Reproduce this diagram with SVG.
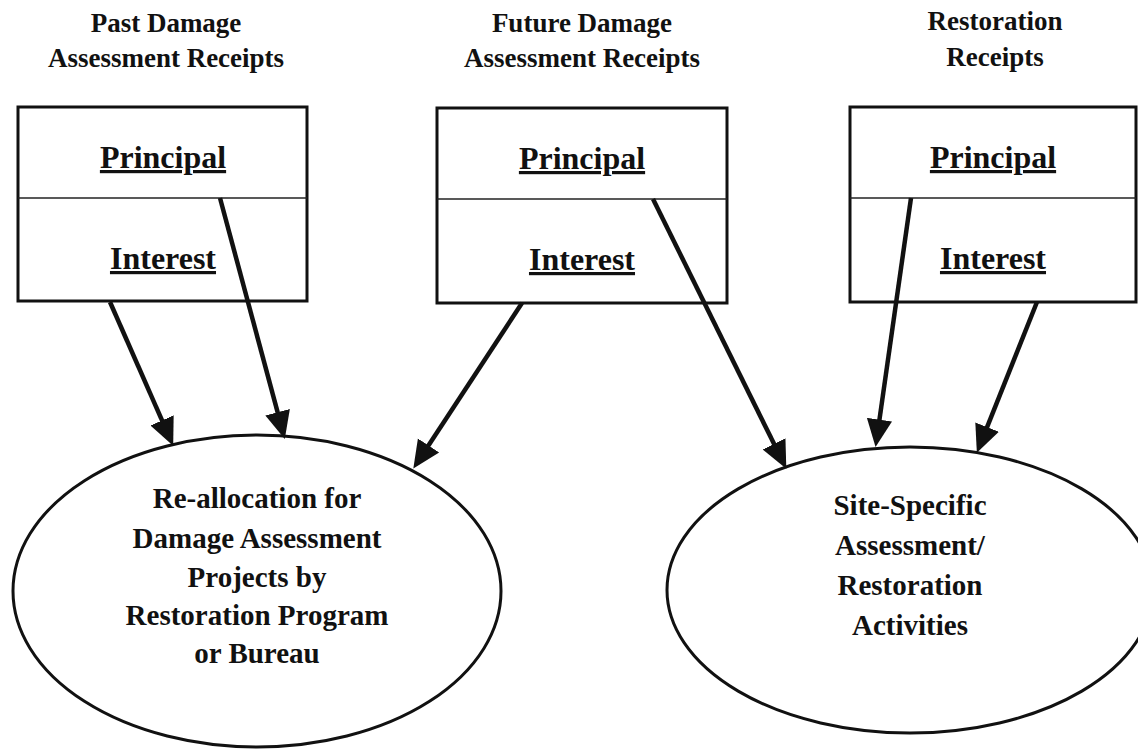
<svg xmlns="http://www.w3.org/2000/svg" width="1138" height="749" viewBox="0 0 1138 749">
<style>
  text { font-family: "Liberation Serif", "Times New Roman", serif; font-weight: bold; fill: #111; text-anchor: middle; }
  .title { font-size: 27px; }
  .lbl { font-size: 32px; text-decoration: underline; }
  .el { font-size: 29px; }
  .box { fill: #fff; stroke: #111; stroke-width: 3; }
  .div { stroke: #222; stroke-width: 1.5; }
  .ell { fill: #fff; stroke: #111; stroke-width: 3; }
  .arr { stroke: #111; stroke-width: 4.5; fill: none; marker-end: url(#ah); }
</style>
<defs>
  <marker id="ah" markerUnits="userSpaceOnUse" markerWidth="30" markerHeight="30" viewBox="0 -12 26 24" refX="4" refY="0" orient="auto">
    <path d="M0,-11 L24,0 L0,11 Z" fill="#111"/>
  </marker>
</defs>
<rect width="1138" height="749" fill="#fff"/>

<g id="past">
  <text class="title" x="166" y="32">Past Damage</text>
  <text class="title" x="166" y="67">Assessment Receipts</text>
  <rect class="box" x="18" y="107" width="289" height="194"/>
  <line class="div" x1="18" y1="198" x2="307" y2="198"/>
  <text class="lbl" x="163" y="168">Principal</text>
  <text class="lbl" x="163" y="269">Interest</text>
</g>

<g id="future">
  <text class="title" x="582" y="32">Future Damage</text>
  <text class="title" x="582" y="67">Assessment Receipts</text>
  <rect class="box" x="437" y="108" width="290" height="195"/>
  <line class="div" x1="437" y1="199" x2="727" y2="199"/>
  <text class="lbl" x="582" y="169">Principal</text>
  <text class="lbl" x="582" y="270">Interest</text>
</g>

<g id="restoration">
  <text class="title" x="995" y="30">Restoration</text>
  <text class="title" x="995" y="66">Receipts</text>
  <rect class="box" x="850" y="107" width="286" height="195"/>
  <line class="div" x1="850" y1="198" x2="1136" y2="198"/>
  <text class="lbl" x="993" y="168">Principal</text>
  <text class="lbl" x="993" y="269">Interest</text>
</g>

<g id="reallocation">
  <ellipse class="ell" cx="257" cy="591" rx="244" ry="156"/>
  <text class="el" x="257" y="508">Re-allocation for</text>
  <text class="el" x="257" y="548">Damage Assessment</text>
  <text class="el" x="257" y="587">Projects by</text>
  <text class="el" x="257" y="625">Restoration Program</text>
  <text class="el" x="257" y="663">or Bureau</text>
</g>

<g id="sitespecific">
  <ellipse class="ell" cx="910" cy="590" rx="243" ry="143"/>
  <text class="el" x="910" y="515">Site-Specific</text>
  <text class="el" x="910" y="555">Assessment/</text>
  <text class="el" x="910" y="595">Restoration</text>
  <text class="el" x="910" y="635">Activities</text>
</g>

<g id="connectors">
  <line class="arr" x1="110" y1="302" x2="163.9" y2="424.7"/>
  <line class="arr" x1="220" y1="198" x2="278.8" y2="416.7"/>
  <line class="arr" x1="522" y1="303" x2="426.0" y2="449.3"/>
  <line class="arr" x1="653" y1="199" x2="776.1" y2="448.1"/>
  <line class="arr" x1="911" y1="198" x2="878.8" y2="424.2"/>
  <line class="arr" x1="1037" y1="302" x2="985.4" y2="431.4"/>
</g>
</svg>
